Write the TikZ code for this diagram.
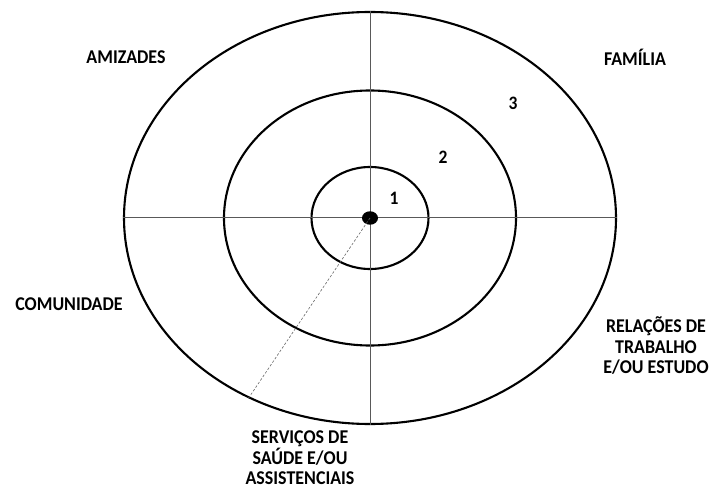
\documentclass[tikz,border=0pt]{standalone}
\usepackage{fontspec}
\setmainfont{Carlito}
\newfontfamily\labelfont[FakeStretch=0.92]{Carlito}
\usetikzlibrary{shapes.geometric}
\tikzset{
  ring/.style  = {ellipse, draw, line width=2.1pt, inner sep=0pt},
  axisline/.style = {line width=1pt, black!65},
  hub/.style   = {ellipse, fill=black, inner sep=0pt, minimum width=16pt, minimum height=13.5pt},
  link/.style  = {line width=0.6pt, black!60, dash pattern=on 2.5pt off 1.8pt},
  lbl/.style   = {font=\labelfont\fontsize{19.5}{20.5}\selectfont\bfseries, align=center, inner sep=0pt},
  num/.style   = {font=\labelfont\fontsize{19}{20}\selectfont\bfseries, inner sep=0pt},
}

\begin{document}
\begin{tikzpicture}[x=1pt,y=-1pt]
  \useasboundingbox (0,0) rectangle (712,489);
  \coordinate (c) at (370,218);
  \node[ring, minimum width=492pt, minimum height=412pt] (outer) at (c) {};
  \node[ring, minimum width=292pt, minimum height=255pt] (mid) at (c) {};
  \node[ring, minimum width=117pt, minimum height=102pt] (inner) at (c) {};
  \draw[axisline] (outer.north) -- (outer.south);
  \draw[axisline] (outer.west) -- (outer.east);
  \node[hub] (ego) at (c) {};
  \draw[link] (ego.center) -- (outer.236.5);
  \node[num] (n1) at (394,198) {1};
  \node[num] (n2) at (443,157) {2};
  \node[num] (n3) at (513,103) {3};
  \node[lbl] (amizades) at (126,57) {AMIZADES};
  \node[lbl] (familia) at (635,57) {FAMÍLIA};
  \node[lbl] (comunidade) at (69,304) {COMUNIDADE};
  \node[lbl] (trabalho) at (656,346) {RELAÇÕES DE\\TRABALHO\\E/OU ESTUDO};
  \node[lbl] (servicos) at (300,458) {SERVIÇOS DE\\SAÚDE E/OU\\ASSISTENCIAIS};
\end{tikzpicture}
\end{document}
